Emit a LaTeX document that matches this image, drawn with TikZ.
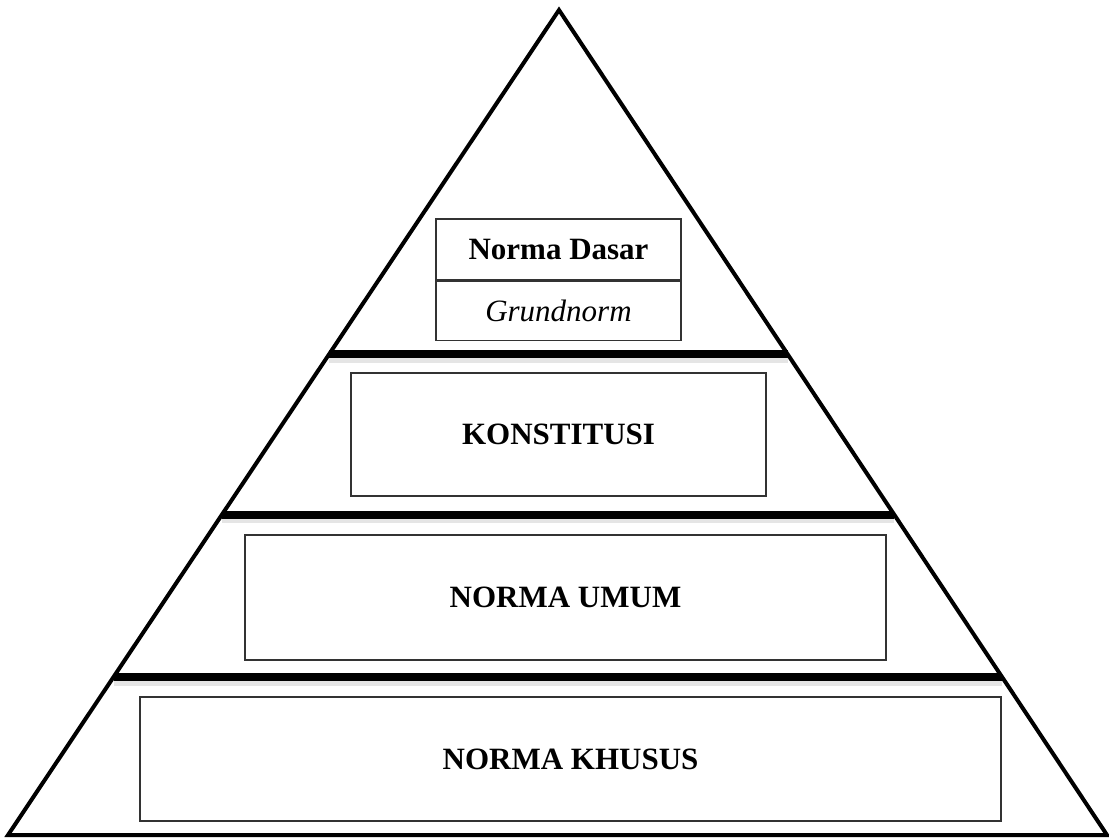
\documentclass[tikz,border=0pt]{standalone}
\usepackage{fontspec}
\setmainfont{Liberation Serif}
\usetikzlibrary{calc}
\begin{document}
\begin{tikzpicture}[x=1pt,y=-1pt,
  levelbox/.style={draw=black!80, line width=1.1pt, inner sep=0pt, font=\fontsize{31}{35}\selectfont\bfseries},
  divider/.style={line width=7.5pt, black},
  dividershade/.style={line width=7pt, black, opacity=0.1},
  pyramid/.style={line width=4pt, line join=miter}]
\useasboundingbox (0,0) rectangle (1109,838);
\fill[white] (0,0) rectangle (1109,838);

% outline of the pyramid
\coordinate (apex) at (559,10);
\coordinate (bl) at (8,835);
\coordinate (br) at (1107,835);
\draw[pyramid] (bl) -- (apex) -- (br) -- cycle;

% level dividers (ends on the sides of the pyramid)
\coordinate (d1l) at ($(apex)!0.4170!(bl)$);
\coordinate (d1r) at ($(apex)!0.4170!(br)$);
\coordinate (d2l) at ($(apex)!0.6121!(bl)$);
\coordinate (d2r) at ($(apex)!0.6121!(br)$);
\coordinate (d3l) at ($(apex)!0.8085!(bl)$);
\coordinate (d3r) at ($(apex)!0.8085!(br)$);
\foreach \a/\b in {d1l/d1r,d2l/d2r,d3l/d3r}{
  \draw[dividershade] ([yshift=-5pt]\a) -- ([yshift=-5pt]\b);
  \draw[divider] (\a) -- (\b);
}

% top level: basic norm
\node[levelbox, minimum width=245pt, minimum height=61pt] (dasar) at (558.5,249.5) {Norma Dasar};
\node[levelbox, minimum width=245pt, minimum height=59pt, font=\fontsize{31}{35}\selectfont\itshape, anchor=north] (grund) at (dasar.south) {Grundnorm};

% lower levels
\node[levelbox, minimum width=415pt, minimum height=123pt] (konst) at (558.5,434.5) {KONSTITUSI};
\node[levelbox, minimum width=641pt, minimum height=125pt] (umum) at (565.5,597.5) {NORMA UMUM};
\node[levelbox, minimum width=861pt, minimum height=124pt] (khusus) at (570.5,759) {NORMA KHUSUS};
\end{tikzpicture}
\end{document}
